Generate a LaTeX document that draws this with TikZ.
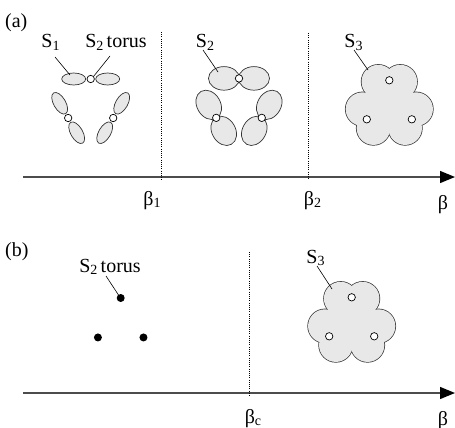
\documentclass[tikz,border=0pt]{standalone}
\usepackage{fontspec}
\setmainfont{Liberation Serif}
\usetikzlibrary{arrows.meta}
\newcommand{\sbs}[1]{\raisebox{-2.5pt}{\fontsize{14}{14}\selectfont #1}}
\begin{document}
\begin{tikzpicture}[x=1pt,y=1pt,font=\fontsize{20}{22}\selectfont,
  lbl/.style={inner sep=0pt,anchor=base},
  lead/.style={draw=black,line width=0.6pt},
  blob/.style={fill=black!9,draw=black!80,line width=0.7pt},
  blobline/.style={draw=black!80,line width=1.4pt},
  blobfill/.style={fill=black!9},
  hole/.style={fill=white,draw=black,line width=0.7pt},
  dot/.style={fill=black},
  axis/.style={draw=black!70,line width=1.3pt,-{Triangle[length=15pt,width=12pt,color=black]}},
  crit/.style={draw=black,line width=0.9pt,dash pattern=on 1pt off 1.2pt}]
\useasboundingbox (0,0) rectangle (455,-428);

% ---------- axes ----------
\coordinate (a0) at (23,-177);
\coordinate (a1) at (455,-177);
\coordinate (b0) at (23,-393);
\coordinate (b1) at (455,-393);
\draw[axis] (a0) -- (a1);
\draw[axis] (b0) -- (b1);

% ---------- critical lines ----------
\coordinate (c1t) at (161,-32);  \coordinate (c1b) at (161,-180);
\coordinate (c2t) at (308,-33);  \coordinate (c2b) at (308,-180);
\coordinate (cct) at (249,-252); \coordinate (ccb) at (249,-396);
\draw[crit] (c1t) -- (c1b);
\draw[crit] (c2t) -- (c2b);
\draw[crit] (cct) -- (ccb);

% ---------- labels ----------
\node[lbl,anchor=base west] (la) at (5,-28) {(a)};
\node[lbl,anchor=base west] (lb) at (5,-256) {(b)};
\node[lbl] (b1) at (152,-205) {β\sbs{1}};
\node[lbl] (b2) at (312.5,-205) {β\sbs{2}};
\node[lbl] (ba) at (443,-209) {β};
\node[lbl] (bc) at (253,-423) {β\sbs{c}};
\node[lbl] (bb) at (443,-425) {β};

% ---------- group 1: S1 pieces ----------
\coordinate (g1) at (90.7,-105);
\foreach \k in {90,210,330}{
  \draw[blob,shift={(g1)},rotate=\k-90] (0,26) ++(17,0) ellipse (12 and 6);
  \draw[blob,shift={(g1)},rotate=\k-90] (0,26) ++(-17,0) ellipse (12 and 6);
}
\foreach \k in {90,210,330}{
  \draw[hole] (g1) ++(\k:26) circle (3.7);
}

% ---------- group 2: S2 ----------
\coordinate (g2) at (239,-104.7);
\foreach \k in {90,210,330}{
  \draw[blob,shift={(g2)},rotate=\k-90] (0,26.3) ++(15,0) ellipse (15.5 and 11.8);
  \draw[blob,shift={(g2)},rotate=\k-90] (0,26.3) ++(-15,0) ellipse (15.5 and 11.8);
}
\foreach \k in {90,210,330}{
  \draw[hole] (g2) ++(\k:26.3) circle (3.7);
}

% ---------- flowers: S3 ----------
\foreach \cx/\cy in {389.3/-106.3, 351.7/-323.3}{
  \foreach \k in {90,210,330}{
    \draw[blobline] (\cx,\cy) ++(\k+24:27) circle (16.8);
    \draw[blobline] (\cx,\cy) ++(\k-24:27) circle (16.8);
  }
  \foreach \k in {90,210,330}{
    \fill[blobfill] (\cx,\cy) ++(\k+24:27) circle (16.8);
    \fill[blobfill] (\cx,\cy) ++(\k-24:27) circle (16.8);
  }
  \fill[blobfill] (\cx,\cy) circle (22);
  \foreach \k in {90,210,330}{
    \draw[hole] (\cx,\cy) ++(\k:26) circle (3.7);
  }
}

% ---------- dots (b) ----------
\coordinate (g4) at (120.7,-324.3);
\foreach \k in {90,210,330}{
  \fill[dot] (g4) ++(\k:26.3) circle (4);
}

% ---------- leader labels ----------
\node[lbl] (s1) at (50.5,-48) {S\sbs{1}};
\node[lbl] (s2t) at (116,-48) {S\sbs{2}\,torus};
\node[lbl] (s2) at (205,-48) {S\sbs{2}};
\node[lbl] (s3) at (353.5,-48) {S\sbs{3}};
\node[lbl] (s2tb) at (110,-272) {S\sbs{2}\,torus};
\node[lbl] (s3b) at (315.5,-263) {S\sbs{3}};

\coordinate (s1a) at (55,-57);   \coordinate (s1e) at (70,-75);
\coordinate (s2ta) at (110,-56); \coordinate (s2te) at (93.5,-76.5);
\coordinate (s2a) at (203,-50);  \coordinate (s2e) at (218,-72);
\coordinate (s3a) at (354,-50);  \coordinate (s3e) at (368,-70);
\coordinate (s2tba) at (106,-276); \coordinate (s2tbe) at (118.5,-295);
\coordinate (s3ba) at (317,-266);  \coordinate (s3be) at (332,-289);
\draw[lead] (s1a) -- (s1e);
\draw[lead] (s2ta) -- (s2te);
\draw[lead] (s2a) -- (s2e);
\draw[lead] (s3a) -- (s3e);
\draw[lead] (s2tba) -- (s2tbe);
\draw[lead] (s3ba) -- (s3be);
\end{tikzpicture}
\end{document}
